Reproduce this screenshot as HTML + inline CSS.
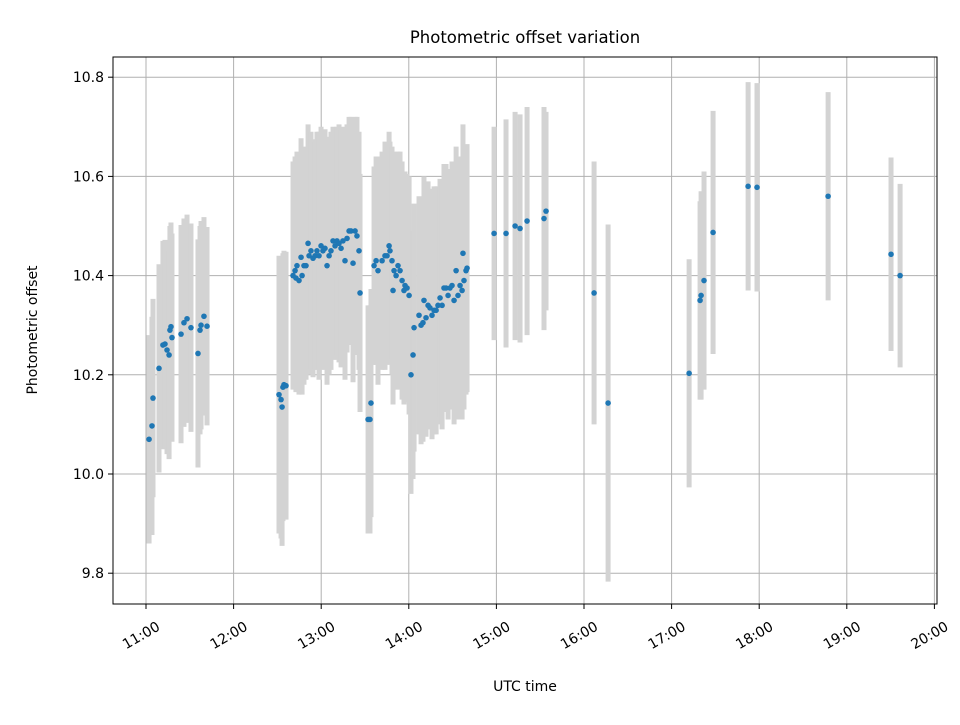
<!DOCTYPE html>
<html><head><meta charset="utf-8"><style>
body{margin:0;background:#fff;}
svg text{font-family:"DejaVu Sans","Liberation Sans",sans-serif;fill:#000;}
</style></head><body>
<svg id="chart" width="960" height="720" viewBox="0 0 960 720" xmlns="http://www.w3.org/2000/svg">
<rect x="0" y="0" width="960" height="720" fill="#fff"/>
<g id="grid"></g>
<g id="bars"></g>
<g id="points"></g>
<rect x="113" y="57" width="824" height="547" fill="none" stroke="#000" stroke-width="1"/>
<g id="axes"></g>
<text x="525" y="43" font-size="16.5" text-anchor="middle">Photometric offset variation</text>
<text x="525" y="691" font-size="14" text-anchor="middle">UTC time</text>
<text x="37" y="330" font-size="14" text-anchor="middle" transform="rotate(-90 37 330)">Photometric offset</text>
</svg>
<script>
// minutes after 11:00 UTC
const times=[2.1,4.1,4.8,8.9,11.6,13.0,14.4,15.8,16.4,17.1,17.8,24.0,26.0,28.1,30.8,35.6,37.0,37.7,39.7,41.8,
91.1,92.5,93.2,93.8,94.5,95.9,100.7,102.1,102.7,103.4,104.8,106.2,106.9,108.2,109.6,111.0,111.7,113.0,114.4,115.8,117.1,118.5,119.9,121.2,122.6,124.0,125.4,126.7,128.1,129.5,130.8,132.2,133.6,134.9,136.3,137.7,139.1,140.4,141.8,143.2,144.5,145.9,146.6,
152.1,153.4,154.1,156.2,157.6,158.9,161.7,163.7,165.1,166.5,167.1,168.5,169.2,169.9,171.3,172.6,174.0,175.4,176.7,177.4,178.8,180.2,181.5,182.9,183.6,
187.0,188.4,189.7,190.4,191.8,193.2,194.5,195.9,197.3,198.7,200.0,201.4,202.8,204.1,205.5,206.9,208.2,209.6,211.0,212.4,213.7,215.1,216.5,217.1,217.8,219.2,219.9,
238.4,246.6,252.8,256.2,261.0,272.6,274.0,306.9,316.5,372.0,379.5,380.2,382.2,388.4,412.4,418.5,467.2,510.3,516.5];
const offsets=[10.07,10.097,10.153,10.213,10.26,10.262,10.25,10.24,10.29,10.297,10.275,10.282,10.305,10.313,10.295,10.243,10.29,10.30,10.318,10.298,
10.16,10.15,10.135,10.175,10.18,10.178,10.40,10.41,10.395,10.42,10.39,10.437,10.40,10.42,10.42,10.465,10.44,10.45,10.435,10.44,10.45,10.44,10.46,10.45,10.455,10.42,10.44,10.45,10.47,10.46,10.47,10.465,10.455,10.47,10.43,10.475,10.49,10.49,10.425,10.49,10.48,10.45,10.365,
10.11,10.11,10.143,10.42,10.43,10.41,10.43,10.44,10.44,10.46,10.45,10.43,10.37,10.41,10.40,10.42,10.41,10.39,10.37,10.38,10.375,10.36,10.20,10.24,10.295,
10.32,10.30,10.305,10.35,10.315,10.34,10.335,10.32,10.33,10.33,10.34,10.355,10.34,10.375,10.375,10.36,10.375,10.38,10.35,10.41,10.36,10.38,10.37,10.445,10.39,10.41,10.415,
10.485,10.485,10.50,10.495,10.51,10.515,10.53,10.365,10.143,10.203,10.35,10.36,10.39,10.487,10.58,10.578,10.56,10.443,10.40];
const errors=[0.21,0.22,0.20,0.21,0.21,0.21,0.21,0.21,0.21,0.21,0.21,0.22,0.21,0.21,0.21,0.23,0.21,0.21,0.20,0.20,
0.28,0.28,0.28,0.27,0.27,0.27,0.23,0.23,0.23,0.23,0.23,0.24,0.24,0.24,0.23,0.24,0.24,0.24,0.24,0.23,0.24,0.25,0.24,0.24,0.24,0.24,0.24,0.24,0.23,0.23,0.23,0.24,0.24,0.23,0.24,0.23,0.23,0.23,0.24,0.23,0.24,0.24,0.24,
0.23,0.23,0.23,0.20,0.21,0.23,0.22,0.23,0.22,0.23,0.22,0.23,0.23,0.24,0.23,0.23,0.24,0.24,0.23,0.23,0.23,0.24,0.24,0.25,0.25,
0.24,0.24,0.24,0.25,0.24,0.25,0.24,0.25,0.25,0.25,0.24,0.24,0.25,0.25,0.25,0.25,0.24,0.25,0.25,0.25,0.25,0.26,0.26,0.26,0.26,0.25,0.25,
0.215,0.23,0.23,0.23,0.23,0.225,0.20,0.265,0.36,0.23,0.2,0.21,0.22,0.245,0.21,0.21,0.21,0.195,0.185];
const xTickLabels=["11:00","12:00","13:00","14:00","15:00","16:00","17:00","18:00","19:00","20:00"];
const yTicks=[9.8,10.0,10.2,10.4,10.6,10.8];

const NS="http://www.w3.org/2000/svg";
function xScale(m){return 146+m*(87.6/60);}
function yScale(v){return 474-(v-10.0)*496;}
function mk(tag,attrs,parent){const e=document.createElementNS(NS,tag);for(const k in attrs)e.setAttribute(k,attrs[k]);parent.appendChild(e);return e;}
const grid=document.getElementById('grid'),axes=document.getElementById('axes'),bars=document.getElementById('bars'),pts=document.getElementById('points');
xTickLabels.forEach((lab,i)=>{
  const x=xScale(i*60);
  const g=mk('line',{x1:x,x2:x,y1:57,y2:604,stroke:'#b0b0b0','stroke-width':1},grid);
  
  const t=mk('line',{x1:x,x2:x,y1:604,y2:609,stroke:'#000'},axes);
  
  const ax=x+5, ay=622;
  const tx=mk('text',{x:ax,y:ay,'font-size':14,'text-anchor':'end',transform:`rotate(-30 ${ax} ${ay-10}) translate(0 10)`},axes);
  tx.textContent=lab;
  
});
yTicks.forEach(v=>{
  const y=yScale(v);
  const g=mk('line',{x1:113,x2:937,y1:y,y2:y,stroke:'#b0b0b0','stroke-width':1},grid);
  
  const t=mk('line',{x1:108,x2:113,y1:y,y2:y,stroke:'#000'},axes);
  
  const tx=mk('text',{x:104,y:y+5,'font-size':14,'text-anchor':'end'},axes);
  tx.textContent=v.toFixed(1);
  
});
times.forEach((m,i)=>{
  const x=xScale(m);
  const b=mk('line',{x1:x,x2:x,y1:yScale(offsets[i]-errors[i]),y2:yScale(offsets[i]+errors[i]),stroke:'#d3d3d3','stroke-width':5},bars);
  
});
times.forEach((m,i)=>{
  const c=mk('circle',{cx:xScale(m),cy:yScale(offsets[i]),r:2.8,fill:'#1f77b4'},pts);
  
});
</script>
</body></html>
